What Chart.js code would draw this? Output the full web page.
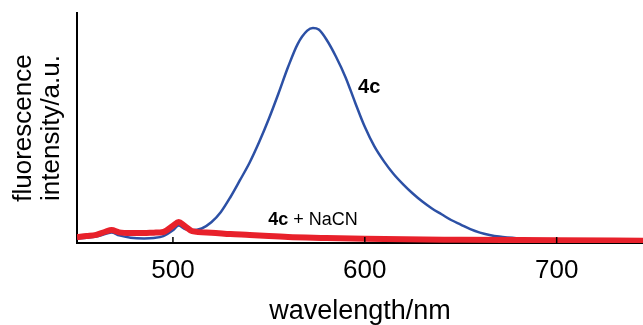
<!DOCTYPE html>
<html>
<head>
<meta charset="utf-8">
<script src="https://cdn.jsdelivr.net/npm/chart.js@4"></script>
<style>
  html, body { margin: 0; padding: 0; background: #fff; }
  #wrap { width: 643px; height: 325px; }
</style>
</head>
<body>
<div id="wrap"><canvas id="spectrum"></canvas></div>
<script>
// emission spectra (intensity in arbitrary units, 0-100)
const wavelengths4c = [450, 455, 460, 465, 468, 472, 478, 485, 490, 495, 500, 503, 506, 510, 515, 520, 525, 530, 535, 540, 545, 550, 555, 560, 565, 570, 573, 576, 580, 585, 590, 595, 600, 605, 610, 615, 620, 625, 630, 635, 640, 645, 650, 655, 660, 665, 670, 680, 690, 700, 720, 745];
const intensity4c = [2.0, 2.3, 2.8, 4.0, 4.6, 3.3, 2.3, 2.0, 2.2, 3.0, 5.5, 7.6, 6.2, 5.5, 6.3, 9.0, 13.5, 20, 27.4, 35, 44, 54, 65, 76.5, 86.5, 92.3, 93.5, 92.8, 88.5, 81, 72, 61, 50.5, 42, 35.5, 30, 25.5, 21.5, 18, 15, 12.5, 10, 8, 6, 4.5, 3.5, 2.8, 2.0, 1.5, 1.2, 1.0, 0.9];

const wavelengthsNaCN = [450, 455, 460, 465, 468, 472, 478, 485, 490, 495, 500, 503, 506, 510, 520, 530, 540, 550, 560, 580, 600, 650, 700, 745];
const intensityNaCN = [2.6, 3.0, 3.5, 5.0, 5.6, 4.6, 4.3, 4.3, 4.5, 4.8, 7.5, 9.1, 7.5, 5.2, 4.5, 3.9, 3.5, 3.0, 2.6, 2.2, 1.8, 1.4, 1.2, 1.0];

const xTicks = [500, 600, 700];

const toPoints = (xs, ys) => xs.map((x, i) => ({ x: x, y: ys[i] }));

// small inward tick marks + curve labels
const extras = {
  id: 'extras',
  afterDatasetsDraw(chart) {
    const ctx = chart.ctx;
    const xs = chart.scales.x;
    const ys = chart.scales.y;
    const base = ys.getPixelForValue(0);
    ctx.save();
    ctx.strokeStyle = '#000';
    ctx.lineWidth = 1.5;
    xTicks.forEach(v => {
      const px = xs.getPixelForValue(v);
      ctx.beginPath();
      ctx.moveTo(px, base);
      ctx.lineTo(px, base - 6);
      ctx.stroke();
    });

    ctx.fillStyle = '#000';
    ctx.textBaseline = 'middle';
    ctx.font = 'bold 20px "Liberation Sans", Arial, sans-serif';
    ctx.fillText('4c', xs.getPixelForValue(596.5), ys.getPixelForValue(67.4));

    let x0 = xs.getPixelForValue(549.7);
    const y0 = ys.getPixelForValue(10);
    ctx.font = 'bold 18px "Liberation Sans", Arial, sans-serif';
    ctx.fillText('4c', x0, y0);
    x0 += ctx.measureText('4c').width;
    ctx.font = '18px "Liberation Sans", Arial, sans-serif';
    ctx.fillText(' + NaCN', x0, y0);
    ctx.restore();
  }
};

new Chart(document.getElementById('spectrum'), {
  type: 'line',
  data: {
    datasets: [{
      label: '4c + NaCN',
      data: toPoints(wavelengthsNaCN, intensityNaCN),
      borderColor: '#e8212b',
      borderWidth: 6,
      pointRadius: 0,
      cubicInterpolationMode: 'monotone',
      fill: false
    }, {
      label: '4c',
      data: toPoints(wavelengths4c, intensity4c),
      borderColor: '#2c50a5',
      borderWidth: 2.5,
      pointRadius: 0,
      cubicInterpolationMode: 'monotone',
      fill: false
    }]
  },
  options: {
    responsive: true,
    maintainAspectRatio: false,
    animation: false,
    layout: { padding: { top: 13, right: 0, left: 0, bottom: 0 } },
    plugins: {
      legend: { display: false },
      tooltip: { enabled: false }
    },
    scales: {
      x: {
        type: 'linear',
        min: 450,
        max: 745,
        afterBuildTicks: scale => { scale.ticks = xTicks.map(v => ({ value: v })); },
        afterFit: scale => { scale.height = 82; },
        grid: { drawOnChartArea: false, drawTicks: false },
        border: { display: true, color: '#000', width: 2 },
        ticks: {
          color: '#000',
          padding: 12,
          font: { family: '"Liberation Sans", Arial, sans-serif', size: 26 }
        },
        title: {
          display: true,
          text: 'wavelength/nm',
          color: '#000',
          padding: 0,
          font: { family: '"Liberation Sans", Arial, sans-serif', size: 27, lineHeight: 1 }
        }
      },
      y: {
        min: 0,
        max: 100,
        afterFit: scale => { scale.width = 77; },
        grid: { drawOnChartArea: false, drawTicks: false },
        border: { display: true, color: '#000', width: 2 },
        ticks: { display: false },
        title: {
          display: true,
          text: ['fluorescence', 'intensity/a.u.'],
          color: '#000',
          padding: { top: 10, bottom: 0 },
          font: { family: '"Liberation Sans", Arial, sans-serif', size: 26, lineHeight: 1.08 }
        }
      }
    }
  },
  plugins: [extras]
});
</script>
</body>
</html>
